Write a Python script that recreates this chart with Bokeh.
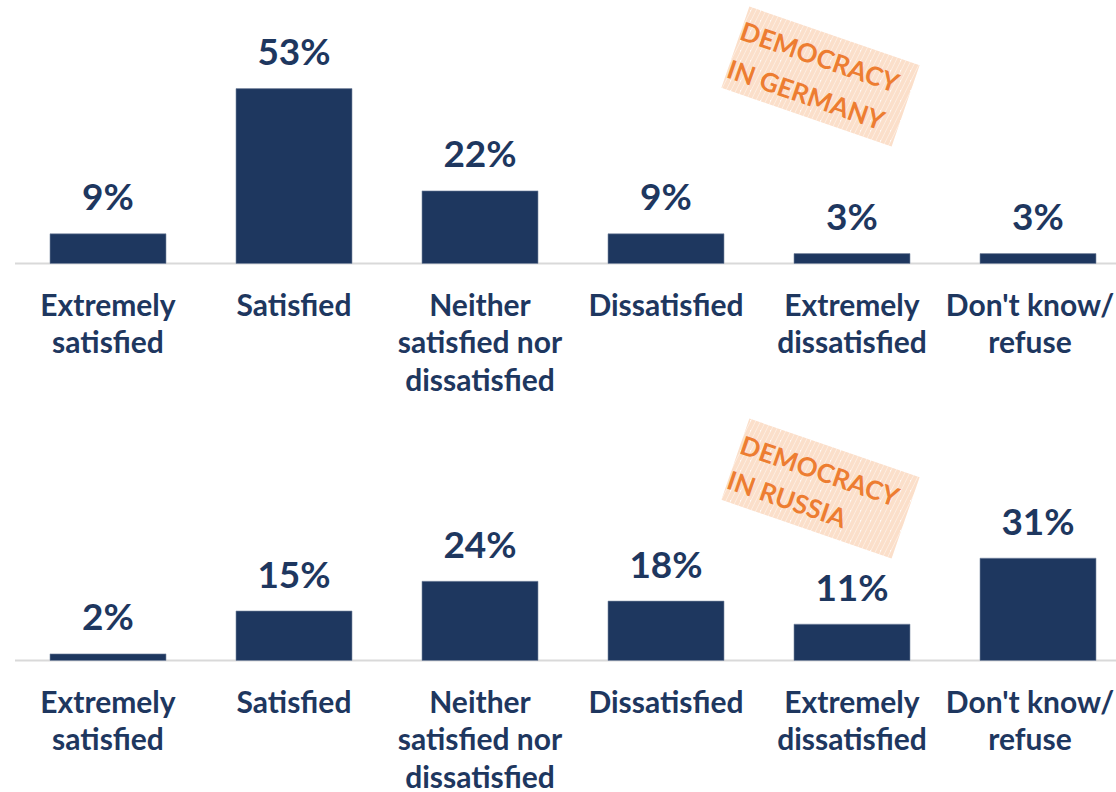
from bokeh.plotting import figure
from bokeh.models import Range1d
from bokeh.core.properties import value
from bokeh.embed import file_html
from bokeh.resources import INLINE

categories = ["Extremely\nsatisfied", "Satisfied", "Neither\nsatisfied nor\ndissatisfied",
              "Dissatisfied", "Extremely\ndissatisfied", "Don't know/\nrefuse"]
germany = [9, 53, 22, 9, 3, 3]
russia = [2, 15, 24, 18, 11, 31]
stamp_titles = [["DEMOCRACY", "IN GERMANY"], ["DEMOCRACY", "IN RUSSIA"]]

NAVY = "#1e375f"
ORANGE = "#ed7d31"
FONT = value("Lato")
S = 3.3      # px per percentage point
U = 186.0    # px per category
C0 = 107.5   # reference x of first category centre
W, H = 1116, 792
BASE_BOTTOM_REF = 660
BASE_TOP_REF = 263

y_end = BASE_BOTTOM_REF / S
y_start = y_end - H / S
x_start = -C0 / U
x_end = x_start + W / U

p = figure(width=W, height=H, output_backend="svg", toolbar_location=None,
           x_axis_location=None, y_axis_location=None, min_border=0,
           x_range=Range1d(x_start, x_end), y_range=Range1d(y_start, y_end))
p.grid.visible = False
p.outline_line_color = None
p.background_fill_color = "white"


def rx(x):
    return (x - C0) / U


def ry(y):
    return (BASE_BOTTOM_REF - y) / S


def panel(vals, titles, base_ref, stamp_c, line1, line2):
    base = ry(base_ref)
    # stamp
    p.rect(x=[rx(stamp_c[0])], y=[ry(stamp_c[1])], width=180, height=86,
           width_units="screen", height_units="screen", angle=-19, angle_units="deg",
           fill_color="#fffaf6", line_color=None, hatch_pattern="/",
           hatch_color="#fad3b8", hatch_weight=4, hatch_scale=10, hatch_alpha=0.7)
    p.text(x=[rx(line1[0]), rx(line2[0])], y=[ry(line1[1]), ry(line2[1])], text=titles,
           angle=-19, angle_units="deg", text_align="left", text_baseline="middle",
           text_font=FONT, text_font_style="bold", text_font_size=value("26px"),
           text_color=ORANGE)

    idx = list(range(len(vals)))
    p.segment(x0=[-0.5], x1=[x_end + 1], y0=[base], y1=[base], line_color="#d9d9d9", line_width=2)
    p.vbar(x=idx, bottom=base, top=[base + v for v in vals], width=116 / U,
           fill_color=NAVY, line_color="#7a8aa3", line_width=0.6)
    p.text(x=idx, y=[base + v + 38 / S for v in vals], text=[f"{v}%" for v in vals],
           text_align="center", text_baseline="middle", text_font=FONT,
           text_font_style="bold", text_font_size=value("37px"), text_color=NAVY)

    lx, ly, lt = [], [], []
    last = len(categories) - 1
    for i, c in enumerate(categories):
        for j, line in enumerate(c.split("\n")):
            # keep the last (right-edge) label inside the page
            lx.append(i - (8 / U if i == last else 0))
            ly.append(base - (40 + 37.5 * j) / S)
            lt.append(line)
    p.text(x=lx, y=ly, text=lt, text_align="center", text_baseline="middle",
           text_font=FONT, text_font_style="bold", text_font_size=value("30px"),
           text_color=NAVY)


panel(germany, stamp_titles[0], BASE_TOP_REF, (820, 76), (741, 29), (728, 67))
panel(russia, stamp_titles[1], BASE_BOTTOM_REF, (820, 488), (741, 443), (728, 478))

open("out.html", "w").write(file_html(p, INLINE))
